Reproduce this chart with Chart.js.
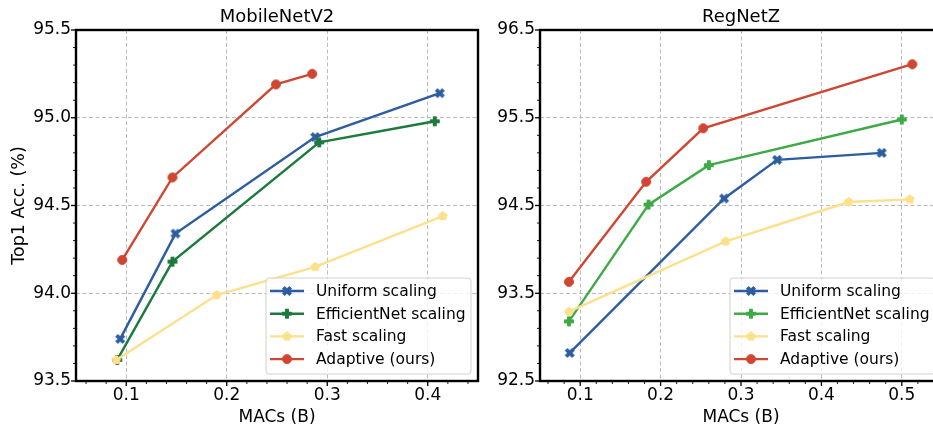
<!DOCTYPE html>
<html>
<head>
<meta charset="utf-8">
<script src="https://cdn.jsdelivr.net/npm/chart.js@4.4.1/dist/chart.umd.min.js"></script>
<style>
  html, body { margin: 0; padding: 0; background: #fff; overflow: hidden; width: 933px; height: 431px; }
  #mbv2 { position: absolute; left: 0; top: 0; }
  #regnetz { position: absolute; left: 480px; top: 0; }
</style>
</head>
<body>
<canvas id="mbv2" width="480" height="431"></canvas>
<canvas id="regnetz" width="464" height="431"></canvas>
<script>
// Scaling strategies compared in both panels
const seriesNames = ['Uniform scaling', 'EfficientNet scaling', 'Fast scaling', 'Adaptive (ours)'];

// MobileNetV2: MACs (B) vs Top-1 accuracy (%)
const mbUniformMacs = [0.094, 0.149, 0.288, 0.412];
const mbUniformAcc  = [93.74, 94.34, 94.89, 95.14];
const mbEffMacs     = [0.091, 0.146, 0.292, 0.407];
const mbEffAcc      = [93.62, 94.18, 94.86, 94.98];
const mbFastMacs    = [0.090, 0.190, 0.288, 0.415];
const mbFastAcc     = [93.62, 93.99, 94.15, 94.44];
const mbAdaptMacs   = [0.096, 0.146, 0.249, 0.285];
const mbAdaptAcc    = [94.19, 94.66, 95.19, 95.25];

// RegNetZ: MACs (B) vs Top-1 accuracy (%)
const rgUniformMacs = [0.087, 0.279, 0.345, 0.475];
const rgUniformAcc  = [92.82, 94.58, 95.02, 95.10];
const rgEffMacs     = [0.086, 0.185, 0.260, 0.500];
const rgEffAcc      = [93.18, 94.51, 94.96, 95.48];
const rgFastMacs    = [0.086, 0.281, 0.434, 0.510];
const rgFastAcc     = [93.29, 94.09, 94.54, 94.57];
const rgAdaptMacs   = [0.086, 0.182, 0.253, 0.513];
const rgAdaptAcc    = [93.63, 94.77, 95.38, 96.11];

// Axis ticks
const mbMacTicks = [0.1, 0.2, 0.3, 0.4];
const mbAccTicks = [93.5, 94.0, 94.5, 95.0, 95.5];
const rgMacTicks = [0.1, 0.2, 0.3, 0.4, 0.5];
const rgAccTicks = [92.5, 93.5, 94.5, 95.5, 96.5];

const FONT = "'DejaVu Sans', sans-serif";
const BLUE = '#2c5d9f';
const YELLOW = '#fddf8c';
const RED = '#cf4631';

// Filled marker outlines in a unit box centred on the origin
const SHAPES = {
  x: [[-1,-2],[0,-1],[1,-2],[2,-1],[1,0],[2,1],[1,2],[0,1],[-1,2],[-2,1],[-1,0],[-2,-1]].map(p => [p[0]/4, p[1]/4]),
  plus: [[-1,-3],[1,-3],[1,-1],[3,-1],[3,1],[1,1],[1,3],[-1,3],[-1,1],[-3,1],[-3,-1],[-1,-1]].map(p => [p[0]/6, p[1]/6]),
  pentagon: [0,1,2,3,4].map(k => { const a = -Math.PI/2 + k*2*Math.PI/5; return [0.5*Math.cos(a), 0.5*Math.sin(a)]; })
};

function makeMarker(shape, color, size) {
  const dim = 14;
  const c = document.createElement('canvas');
  c.width = c.height = dim;
  const g = c.getContext('2d');
  g.translate(dim / 2, dim / 2);
  g.fillStyle = color;
  g.strokeStyle = color;
  g.lineWidth = 1;
  g.lineJoin = 'round';
  g.beginPath();
  if (shape === 'circle') {
    g.arc(0, 0, size / 2, 0, Math.PI * 2);
  } else {
    SHAPES[shape].forEach(([x, y], i) => i ? g.lineTo(x * size, y * size) : g.moveTo(x * size, y * size));
    g.closePath();
  }
  g.fill();
  g.stroke();
  return c;
}

function series(idx, xs, ys, color, shape) {
  return {
    label: seriesNames[idx],
    data: xs.map((x, i) => ({ x: x, y: ys[i] })),
    borderColor: color,
    backgroundColor: color,
    borderWidth: 2.4,
    pointStyle: makeMarker(shape, color, 9),
    pointRadius: 5,
    pointHoverRadius: 5,
    showLine: true,
    order: 3 - idx
  };
}

// Frame, tick marks, panel title and legend
const decorations = {
  id: 'decorations',
  afterDraw(chart, args, opts) {
    const ctx = chart.ctx;
    const ca = chart.chartArea;
    const xs = chart.scales.x, ys = chart.scales.y;
    ctx.save();

    // frame
    ctx.strokeStyle = '#000';
    ctx.lineWidth = 2.4;
    ctx.strokeRect(ca.left, ca.top, ca.right - ca.left, ca.bottom - ca.top);

    // tick marks (major and minor)
    const tickLine = (x1, y1, x2, y2, w) => {
      ctx.lineWidth = w;
      ctx.beginPath(); ctx.moveTo(x1, y1); ctx.lineTo(x2, y2); ctx.stroke();
    };
    const isMajor = (v, list) => list.some(t => Math.abs(t - v) < 1e-6);
    for (let i = 0; ; i++) {
      const v = +(opts.xMinorStart + i * opts.xMinorStep).toFixed(4);
      if (v > xs.max + 1e-9) break;
      const px = xs.getPixelForValue(v);
      const major = isMajor(v, opts.xMajor);
      tickLine(px, ca.bottom, px, ca.bottom + (major ? 5 : 3), major ? 1.3 : 0.9);
    }
    for (let i = 0; ; i++) {
      const v = +(ys.min + i * opts.yMinorStep).toFixed(4);
      if (v > ys.max + 1e-9) break;
      const py = ys.getPixelForValue(v);
      const major = isMajor(v, opts.yMajor);
      tickLine(ca.left, py, ca.left - (major ? 5 : 3), py, major ? 1.3 : 0.9);
    }

    // panel title
    ctx.fillStyle = '#000';
    ctx.font = '18px ' + FONT;
    ctx.textAlign = 'center';
    ctx.textBaseline = 'middle';
    ctx.fillText(opts.title, (ca.left + ca.right) / 2, 17);

    // legend
    const bw = 205, bh = 96;
    const bx = ca.right - 7 - bw, by = ca.bottom - 7 - bh;
    ctx.beginPath();
    ctx.roundRect(bx, by, bw, bh, 3);
    ctx.fillStyle = 'rgba(255,255,255,0.8)';
    ctx.fill();
    ctx.strokeStyle = '#d0d0d0';
    ctx.lineWidth = 1;
    ctx.stroke();
    ctx.font = '15.5px ' + FONT;
    ctx.textAlign = 'left';
    chart.data.datasets.forEach((d, i) => {
      const cy = by + 13 + i * 22.7;
      ctx.strokeStyle = d.borderColor;
      ctx.lineWidth = 2.4;
      ctx.beginPath(); ctx.moveTo(bx + 4, cy); ctx.lineTo(bx + 38, cy); ctx.stroke();
      const m = d.pointStyle;
      ctx.drawImage(m, bx + 21 - m.width / 2, cy - m.height / 2);
      ctx.fillStyle = '#000';
      ctx.fillText(d.label, bx + 50, cy + 1);
    });
    ctx.restore();
  }
};

function panel(id, cfg) {
  return new Chart(document.getElementById(id), {
    type: 'scatter',
    data: { datasets: cfg.datasets },
    options: {
      responsive: false,
      animation: false,
      devicePixelRatio: 1,
      events: [],
      layout: { autoPadding: false, padding: { top: 30, right: 2, left: 0, bottom: 0 } },
      plugins: {
        legend: { display: false },
        tooltip: { enabled: false },
        title: { display: false },
        decorations: {
          title: cfg.title,
          xMajor: cfg.xTicks, yMajor: cfg.yTicks,
          xMinorStart: 0.06, xMinorStep: 0.02, yMinorStep: cfg.yMinorStep
        }
      },
      scales: {
        x: {
          type: 'linear',
          min: cfg.xMin, max: cfg.xMax,
          afterBuildTicks: s => { s.ticks = cfg.xTicks.map(v => ({ value: v })); },
          afterFit: s => { s.height = 50; s.paddingRight = 0; s.paddingLeft = 0; },
          border: { display: false, dash: [4, 2.5] },
          grid: { color: '#b3b3b3', lineWidth: 0.9, drawTicks: false },
          ticks: {
            color: '#000', padding: 4, maxRotation: 0, autoSkip: false,
            font: { family: FONT, size: 17 },
            callback: v => v.toFixed(1)
          },
          title: {
            display: true, text: 'MACs (B)', color: '#000',
            font: { family: FONT, size: 17 }, padding: { top: 0, bottom: 3 }
          }
        },
        y: {
          type: 'linear',
          min: cfg.yMin, max: cfg.yMax,
          afterBuildTicks: s => { s.ticks = cfg.yTicks.map(v => ({ value: v })); },
          afterFit: s => { s.width = cfg.yWidth; s.paddingTop = 0; s.paddingBottom = 0; },
          border: { display: false, dash: [4, 2.5] },
          grid: { color: '#b3b3b3', lineWidth: 0.9, drawTicks: false },
          ticks: {
            color: '#000', padding: 5, autoSkip: false,
            font: { family: FONT, size: 17 },
            callback: v => v.toFixed(1)
          },
          title: {
            display: cfg.yTitle, text: 'Top1 Acc. (%)', color: '#000',
            font: { family: FONT, size: 17.5 }, padding: { top: 9, bottom: 0 }
          }
        }
      }
    },
    plugins: [decorations]
  });
}

panel('mbv2', {
  title: 'MobileNetV2',
  xMin: 0.05, xMax: 0.45, yMin: 93.5, yMax: 95.5,
  xTicks: mbMacTicks, yTicks: mbAccTicks, yMinorStep: 0.1,
  yWidth: 76, yTitle: true,
  datasets: [
    series(0, mbUniformMacs, mbUniformAcc, BLUE, 'x'),
    series(1, mbEffMacs, mbEffAcc, '#1b7a3c', 'plus'),
    series(2, mbFastMacs, mbFastAcc, YELLOW, 'pentagon'),
    series(3, mbAdaptMacs, mbAdaptAcc, RED, 'circle')
  ]
});

panel('regnetz', {
  title: 'RegNetZ',
  xMin: 0.05, xMax: 0.55, yMin: 92.5, yMax: 96.5,
  xTicks: rgMacTicks, yTicks: rgAccTicks, yMinorStep: 0.2,
  yWidth: 60, yTitle: false,
  datasets: [
    series(0, rgUniformMacs, rgUniformAcc, BLUE, 'x'),
    series(1, rgEffMacs, rgEffAcc, '#3daa45', 'plus'),
    series(2, rgFastMacs, rgFastAcc, YELLOW, 'pentagon'),
    series(3, rgAdaptMacs, rgAdaptAcc, RED, 'circle')
  ]
});
</script>
</body>
</html>
